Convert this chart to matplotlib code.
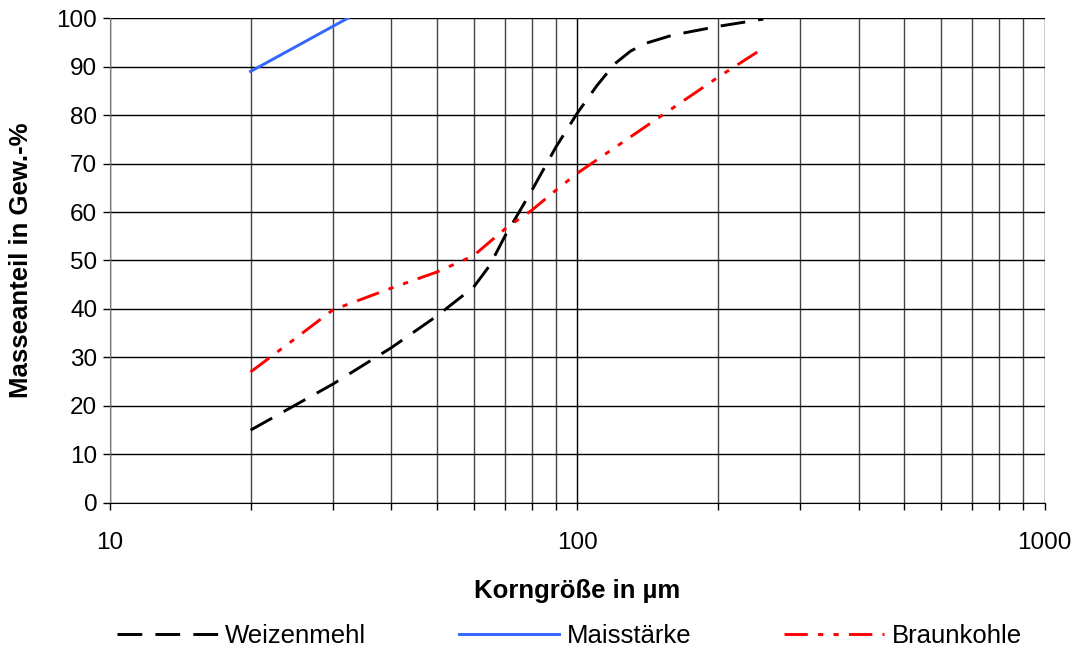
import matplotlib.pyplot as plt
from matplotlib.ticker import LogLocator, NullFormatter, FixedLocator

plt.rcParams['font.family'] = ['Liberation Sans', 'DejaVu Sans']

# Korngröße in µm
weizen_x = [20, 30, 40, 50, 60, 65, 70, 80, 90, 100, 110, 120, 130, 140, 160, 200, 250]
weizen_y = [15, 24.5, 32, 38.5, 44.5, 49, 55, 64.5, 73.4, 80.4, 86, 90.5, 93.2, 94.8, 96.5, 98.3, 99.8]

mais_x = [20, 32.3]
mais_y = [89, 100]

braun_x = [20, 25, 30, 40, 50, 60, 70, 80, 90, 100, 150, 200, 250]
braun_y = [27, 34, 39.8, 44.3, 47.6, 51, 56.5, 60.4, 64.5, 68, 79.6, 87.8, 93.8]

fig = plt.figure(figsize=(10.77, 6.48), dpi=100)
ax = fig.add_axes([0.102, 0.224, 0.868, 0.748])

ax.plot(weizen_x, weizen_y, color='black', lw=2.1, dashes=(8.5, 4.5), label='Weizenmehl')
ax.plot(mais_x, mais_y, color='#3366FF', lw=2.1, label='Maisstärke')
ax.plot(braun_x, braun_y, color='#FF0000', lw=2.1, dashes=(8, 3.5, 1.8, 3.5, 1.8, 3.5),
        label='Braunkohle')

ax.set_xscale('log')
ax.set_xlim(10, 1000)
ax.set_ylim(0, 100)
ax.set_yticks(range(0, 101, 10))
ax.xaxis.set_major_locator(FixedLocator([10, 100, 1000]))
ax.xaxis.set_minor_locator(LogLocator(base=10, subs=range(2, 10)))
ax.xaxis.set_minor_formatter(NullFormatter())
ax.set_xticklabels(['10', '100', '1000'])

ax.grid(True, which='major', axis='y', color='black', lw=1.0)
ax.grid(True, which='major', axis='x', color='black', lw=1.0)
ax.grid(True, which='minor', axis='x', color='#444444', lw=1.0)

for s in ['top', 'right']:
    ax.spines[s].set_visible(False)
ax.spines['left'].set_color('#777777')
ax.spines['bottom'].set_color('black')

ax.tick_params(axis='both', which='both', direction='out', length=5, width=1,
               color='black', labelsize=17.5)
ax.tick_params(axis='x', pad=16)
ax.tick_params(axis='y', pad=4)

ax.set_xlabel('Korngröße in µm', fontsize=18.5, fontweight='bold', labelpad=18)
ax.set_ylabel('Masseanteil in Gew.-%', fontsize=18.5, fontweight='bold', labelpad=17)

fig.legend(loc='lower center', bbox_to_anchor=(0.529, -0.035), ncol=3, frameon=False,
           fontsize=18.5, handlelength=3.9, handletextpad=0.3, columnspacing=3.6)

fig.savefig('out.png', dpi=100)
